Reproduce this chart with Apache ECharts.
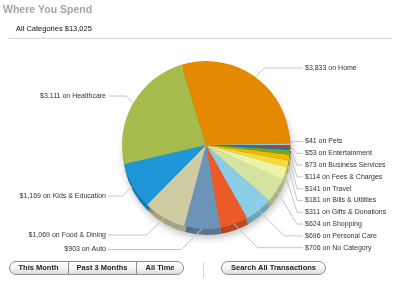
<!DOCTYPE html>
<html><head><meta charset="utf-8">
<script src="https://cdn.jsdelivr.net/npm/echarts@6/dist/echarts.min.js"></script>
<style>html,body{margin:0;padding:0;background:#fff}#c{width:400px;height:291px}</style>
</head><body><div id="c"></div>
<script>
const categories = ["Home","Pets","Entertainment","Business Services","Fees & Charges","Travel","Bills & Utilities","Gifts & Donations","Shopping","Personal Care","No Category","Auto","Food & Dining","Kids & Education","Healthcare"];
const values = [3833,41,53,73,114,141,181,311,624,696,706,903,1069,1169,3111];
const pieColors = ["#E58A00","#8ED2E6","#D2361F","#1C6EC1","#6DAA1E","#F2B700","#F7D93A","#EDF2A8","#D4E4A0","#8BCDE6","#EC5A27","#6C94B7","#CFCBA3","#1E97D9","#A5BB4C"];
const total = "$13,025";
const buttons = ["This Month","Past 3 Months","All Time"];
const searchLabel = "Search All Transactions";

// layout (label rows), not data
const CX = 206, CY = 145, R = 84, START = 107;
const RIGHT_X = 305, LEFT_X = 106;
const labelRowY = [68,141.5,153.3,165.1,176.9,188.7,200.5,212.3,224.1,235.9,247.7,249.5,235,196,96];

function fmt(v){return "$"+v.toLocaleString("en-US");}
function darker(hex,f){const n=parseInt(hex.slice(1),16);const r=Math.round(((n>>16)&255)*f),g=Math.round(((n>>8)&255)*f),b=Math.round((n&255)*f);return "rgb("+r+","+g+","+b+")";}

const sum = values.reduce((a,b)=>a+b,0);
const midAngles = [];
{ let cum=0; values.forEach(v=>{ midAngles.push((START - (cum+v/2)/sum*360)*Math.PI/180); cum+=v; }); }

const data = categories.map((c,i)=>({name:c,value:values[i],itemStyle:{color:pieColors[i]}}));
const dataDark = categories.map((c,i)=>({name:c,value:values[i],itemStyle:{color:darker(pieColors[i],0.8)}}));

const chart = echarts.init(document.getElementById('c'),null,{renderer:'canvas'});
const FONT = "Liberation Sans, Arial, sans-serif";

const g = [];
g.push({type:'text',left:3,top:5,style:{text:"Where You Spend",font:"bold 10.5px "+FONT,fill:"#A8A39E"}});
g.push({type:'text',left:16,top:25,style:{text:"All Categories "+total,font:"7.5px "+FONT,fill:"#111"}});
g.push({type:'line',shape:{x1:9,y1:38.5,x2:392,y2:38.5},style:{stroke:"#D6D6D6",lineWidth:1}});
const grad = new echarts.graphic.LinearGradient(0,0,0,1,[{offset:0,color:"#FFFFFF"},{offset:0.5,color:"#F4F4F4"},{offset:1,color:"#D8D8D8"}]);
g.push({type:'rect',shape:{x:9.5,y:261.5,width:174,height:13,r:6.5},style:{fill:grad,stroke:"#8E8E8E",lineWidth:1}});
const bx=[9,68,136,184];
for(let i=1;i<3;i++) g.push({type:'line',shape:{x1:bx[i]+0.5,y1:262,x2:bx[i]+0.5,y2:274},style:{stroke:"#8E8E8E",lineWidth:1}});
buttons.forEach((b,i)=>{g.push({type:'text',x:(bx[i]+bx[i+1])/2,y:268,style:{text:b,font:"bold 7.5px "+FONT,fill:"#222",align:'center',verticalAlign:'middle'}});});
g.push({type:'line',shape:{x1:203.5,y1:262,x2:203.5,y2:278},style:{stroke:"#D8D8D8",lineWidth:1}});
g.push({type:'rect',shape:{x:221.5,y:261.5,width:104,height:13,r:6.5},style:{fill:grad,stroke:"#8E8E8E",lineWidth:1}});
g.push({type:'text',x:273.5,y:268,style:{text:searchLabel,font:"bold 7.5px "+FONT,fill:"#222",align:'center',verticalAlign:'middle'}});

function layoutLabel(p){
  const i = p.dataIndex;
  const a = midAngles[i];
  const x0 = CX + R*Math.cos(a), y0 = CY - R*Math.sin(a);
  const y = labelRowY[i];
  const right = Math.cos(a) >= 0 && i <= 10;
  let x1;
  if (right) { x1 = Math.min(x0 + Math.abs(y - y0), RIGHT_X - 8); }
  else { x1 = Math.max(x0 - Math.abs(y - y0), LEFT_X + 8); }
  const x2 = right ? RIGHT_X - 2 : LEFT_X + 2;
  return {
    x: right ? RIGHT_X : LEFT_X,
    y: y,
    align: right ? 'left' : 'right',
    verticalAlign: 'middle',
    labelLinePoints: [[x0,y0],[x1,y],[x2,y]]
  };
}

chart.setOption({
  animation:false,
  graphic:g,
  series:[
    {type:'pie',silent:true,center:[CX+1,CY+6],radius:R,startAngle:START,clockwise:true,data:dataDark,label:{show:false},labelLine:{show:false},
     itemStyle:{shadowBlur:7,shadowColor:'rgba(0,0,0,0.25)',shadowOffsetX:1,shadowOffsetY:3},z:1},
    {type:'pie',center:[CX,CY],radius:R,startAngle:START,clockwise:true,data:data,z:2,
     label:{show:true,formatter:p=>fmt(p.value)+" on "+p.name,fontSize:7,fontFamily:FONT,color:"#333",overflow:'none'},
     labelLine:{show:true,length:6,length2:8,lineStyle:{color:"#C4C4C4",width:1}},
     labelLayout:layoutLabel,
     avoidLabelOverlap:false,minShowLabelAngle:0}
  ]
});
</script></body></html>
